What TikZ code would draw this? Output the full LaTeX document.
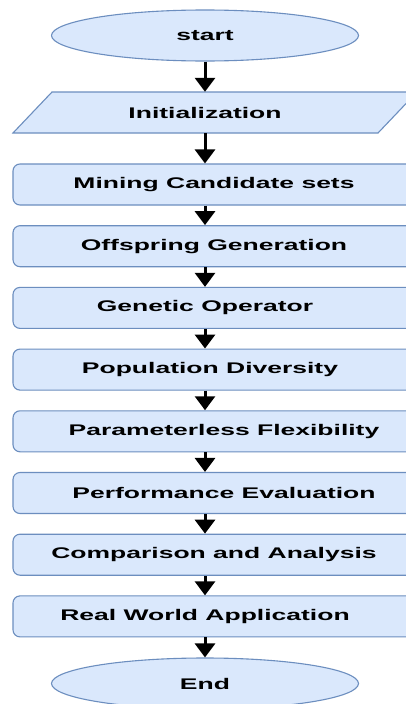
\documentclass[tikz,border=0pt]{standalone}
\usepackage{fontspec}
\newfontfamily\labelfont{Liberation Sans}[FakeStretch=1.72]
\usetikzlibrary{shapes.geometric,arrows.meta}
\definecolor{boxfill}{HTML}{DAE8FC}
\definecolor{boxline}{HTML}{6C8EBF}
\begin{document}
\begin{tikzpicture}[x=1pt,y=-1pt,
  every node/.style={font={\labelfont\bfseries\fontsize{15.4}{18}\selectfont}},
  terminal/.style={ellipse, draw=boxline, fill=boxfill, line width=1.1pt,
    minimum width=307pt, minimum height=51pt, inner sep=0pt},
  stepbox/.style={rectangle, rounded corners=7pt, draw=boxline, fill=boxfill,
    line width=1.1pt, minimum width=402pt, minimum height=41pt, inner sep=0pt},
  inputshape/.style={draw=boxline, fill=boxfill, line width=1.1pt},
  flow/.style={line width=3pt, -{Triangle[width=20pt,length=14pt]}},
  nudge/.style={execute at begin node={\hspace*{#1}}}
]
\clip (0,0) rectangle (406,704);
\fill[white] (0,0) rectangle (406,704);

% terminals
\node[terminal] (start) at (205,35.5) {start};

% input step (parallelogram)
\draw[inputshape] (13,133) -- (378,133) -- (417,92) -- (52,92) -- cycle;
\node[minimum width=326pt, minimum height=41pt, inner sep=0pt] (init) at (205,112.5) {Initialization};

% process steps
\node[stepbox]              (s1) at (214,184.5) {Mining Candidate sets};
\node[stepbox]              (s2) at (214,246.2) {Offspring Generation};
\node[stepbox, nudge=-18pt] (s3) at (214,307.9) {Genetic Operator};
\node[stepbox, nudge=-8pt]  (s4) at (214,369.6) {Population Diversity};
\node[stepbox, nudge=20pt]  (s5) at (214,431.3) {Parameterless Flexibility};
\node[stepbox, nudge=20pt]  (s6) at (214,493.0) {Performance Evaluation};
\node[stepbox]              (s7) at (214,554.7) {Comparison and Analysis};
\node[stepbox, nudge=-18pt] (s8) at (214,616.4) {Real World Application};

\node[terminal] (end) at (205,683.5) {End};

% connectors
\draw[flow] (start.south) -- (init.north);
\draw[flow] (init.south) -- (s1.north -| init.south);
\draw[flow] (s1.south -| init.south) -- (s2.north -| init.south);
\draw[flow] (s2.south -| init.south) -- (s3.north -| init.south);
\draw[flow] (s3.south -| init.south) -- (s4.north -| init.south);
\draw[flow] (s4.south -| init.south) -- (s5.north -| init.south);
\draw[flow] (s5.south -| init.south) -- (s6.north -| init.south);
\draw[flow] (s6.south -| init.south) -- (s7.north -| init.south);
\draw[flow] (s7.south -| init.south) -- (s8.north -| init.south);
\draw[flow] (s8.south -| init.south) -- (end.north);
\end{tikzpicture}
\end{document}
